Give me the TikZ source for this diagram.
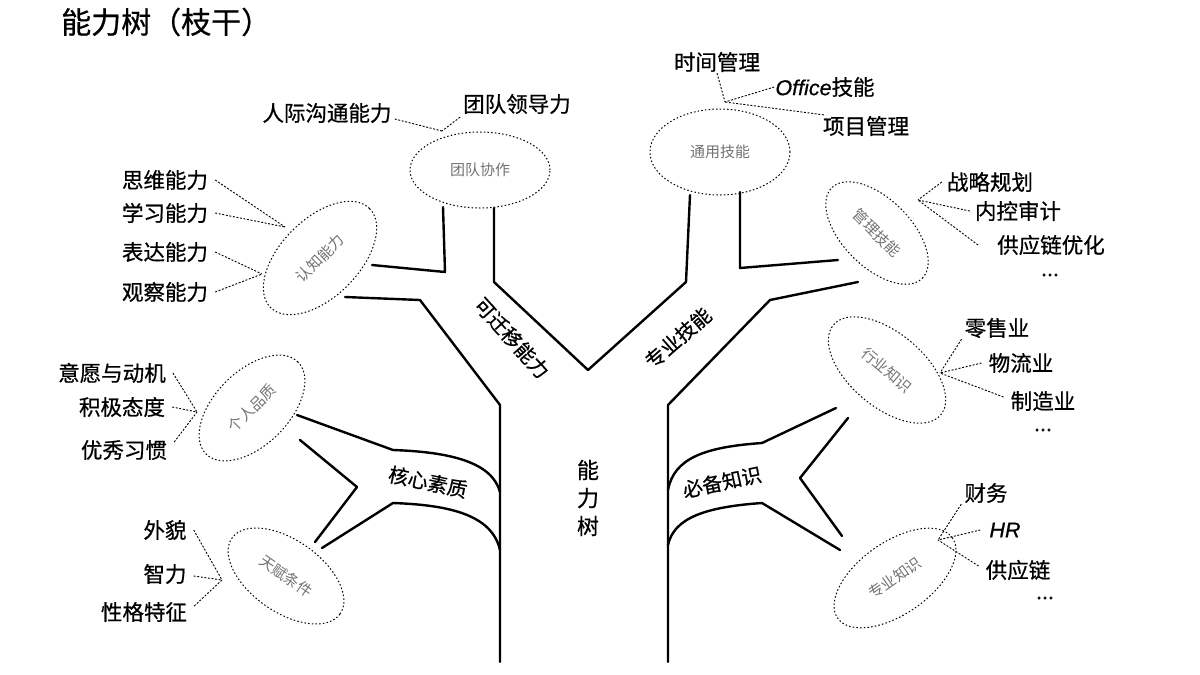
\documentclass[tikz,border=0pt]{standalone}
\usepackage{fontspec}
\setmainfont{Noto Sans CJK SC}
\newfontfamily\labfont{Noto Sans CJK SC}[FakeBold=0.6]
\newfontfamily\itfont{Liberation Sans}[FakeBold=0.6]
\usetikzlibrary{shapes.geometric}
\begin{document}
\begin{tikzpicture}[x=1pt,y=-1pt,
  branch/.style={line width=2.4pt, line join=round, line cap=round},
  lead/.style={dash pattern=on 2pt off 1.6pt, line width=0.9pt},
  oval/.style={ellipse, draw, dash pattern=on 1.5pt off 2.2pt, line width=1pt, inner sep=0pt, font=\fontsize{15}{15}\selectfont, text=black!55},
  lab/.style={font=\labfont\fontsize{21.5}{21.5}\selectfont, inner sep=1pt},
  blab/.style={font=\labfont\fontsize{20}{20}\selectfont, inner sep=0pt}]
\useasboundingbox (0,0) rectangle (1200,675);
\fill[white] (0,0) rectangle (1200,675);

\node[anchor=west, font=\labfont\fontsize{30}{30}\selectfont, inner sep=0pt] (title) at (61,22) {能力树（枝干）};

% ellipses
\node[oval, minimum width=140pt, minimum height=76pt] (e1) at (480,170) {团队协作};
\node[oval, minimum width=140pt, minimum height=86pt] (e2) at (720,152) {通用技能};
\node[oval, minimum width=140pt, minimum height=78pt, rotate=45] (e3) at (320,258) {认知能力};
\node[oval, minimum width=128pt, minimum height=68pt, rotate=-45] (e4) at (877,233) {管理技能};
\node[oval, minimum width=130pt, minimum height=74pt, rotate=45] (e5) at (252,408) {个人品质};
\node[oval, minimum width=140pt, minimum height=74pt, rotate=-40] (e6) at (887,370) {行业知识};
\node[oval, minimum width=132pt, minimum height=72pt, rotate=-35] (e7) at (286,576) {天赋条件};
\node[oval, minimum width=140pt, minimum height=72pt, rotate=35] (e8) at (895,578) {专业知识};

% tree outline
\draw[branch] (372,265) -- (445,272) -- (443,207);
\draw[branch] (345,297) -- (420,300) -- (500,405) -- (500,662);
\draw[branch] (494,208) -- (494,282) -- (588,370) -- (686,282) -- (690,195);
\draw[branch] (740,192) -- (740,268) -- (838,260);
\draw[branch] (858,282) -- (770,300) -- (668,405) -- (668,662);
% lower left branch
\draw[branch] (297,415) -- (393,450) .. controls (450,452) and (492,462) .. (500,492);
\draw[branch] (300,440) -- (357,487) -- (315,542);
\draw[branch] (322,548) -- (393,503) .. controls (450,505) and (492,515) .. (500,550);
% lower right branch
\draw[branch] (836,408) -- (762,443) .. controls (705,447) and (674,458) .. (668,490);
\draw[branch] (848,418) -- (800,478) -- (842,536);
\draw[branch] (840,550) -- (762,503) .. controls (705,507) and (674,518) .. (668,545);

% branch labels
\node[blab, rotate=-48] (b1) at (512,338) {可迁移能力};
\node[blab, rotate=41] (b2) at (678,338) {专业技能};
\node[blab, rotate=-12] (b3) at (428,482) {核心素质};
\node[blab, rotate=12] (b4) at (722,482) {必备知识};
\node[font=\labfont\fontsize{22}{28}\selectfont, align=center, inner sep=0pt] (trunk) at (588,498) {能\\力\\树};

% top-left labels
\coordinate (c1) at (442,131);
\node[lab] (l11) at (327,113) {人际沟通能力};
\node[lab] (l12) at (517,104) {团队领导力};
\draw[lead] (l11.east) ++(2,6) -- (c1);
\draw[lead] (l12.south west) ++(-2,2) -- (c1);

% top-right labels
\coordinate (c2) at (725,102);
\node[lab] (l21) at (717,62) {时间管理};
\node[lab] (l22) at (825,87) {{\itfont\itshape Office}技能};
\node[lab] (l23) at (866,126) {项目管理};
\draw[lead] (l21.south) -- (c2);
\draw[lead] (l22.west) -- (c2);
\draw[lead] (l23.north west) ++(2,0) -- (c2);

% right-upper labels
\coordinate (c3) at (918,200);
\node[lab] (l31) at (990,182) {战略规划};
\node[lab] (l32) at (1018,211) {内控审计};
\node[lab] (l33) at (1051,245) {供应链优化};
\node[lab] (l34) at (1050,275) {...};
\draw[lead] (l31.west) ++(-4,0) -- (c3);
\draw[lead] (l32.west) ++(-4,0) -- (c3);
\draw[lead] (l33.west) ++(-18,0) -- (c3);

% left-upper labels
\coordinate (c4) at (285,227);
\coordinate (c4b) at (262,274);
\node[lab] (l41) at (165,180) {思维能力};
\node[lab] (l42) at (165,213) {学习能力};
\node[lab] (l43) at (165,252) {表达能力};
\node[lab] (l44) at (165,292) {观察能力};
\draw[lead] (l41.east) ++(6,0) -- (c4);
\draw[lead] (l42.east) ++(6,0) -- (c4);
\draw[lead] (l43.east) ++(6,0) -- (c4b);
\draw[lead] (l44.east) ++(6,0) -- (c4b);

% left-middle labels
\coordinate (c5) at (197,412);
\node[lab] (l51) at (112,373) {意愿与动机};
\node[lab] (l52) at (122,407) {积极态度};
\node[lab] (l53) at (124,450) {优秀习惯};
\draw[lead] (l51.east) ++(6,0) -- (c5);
\draw[lead] (l52.east) ++(6,0) -- (c5);
\draw[lead] (l53.east) ++(6,-8) -- (c5);

% left-bottom labels
\coordinate (c6) at (222,580);
\node[lab] (l61) at (165,530) {外貌};
\node[lab] (l62) at (165,574) {智力};
\node[lab] (l63) at (144,612) {性格特征};
\draw[lead] (l61.east) ++(6,0) -- (c6);
\draw[lead] (l62.east) ++(6,2) -- (c6);
\draw[lead] (l63.east) ++(6,-6) -- (c6);

% right-middle labels
\coordinate (c7) at (940,373);
\node[lab] (l71) at (997,328) {零售业};
\node[lab] (l72) at (1021,363) {物流业};
\node[lab] (l73) at (1043,401) {制造业};
\node[lab] (l74) at (1043,430) {...};
\draw[lead] (l71.south west) ++(-2,0) -- (c7);
\draw[lead] (l72.west) ++(-6,0) -- (c7);
\draw[lead] (l73.west) ++(-6,-4) -- (c7);

% right-bottom labels
\coordinate (c8) at (938,540);
\node[lab] (l81) at (986,493) {财务};
\node[lab] (l82) at (1005,530) {{\itfont\itshape HR}};
\node[lab] (l83) at (1018,570) {供应链};
\node[lab] (l84) at (1045,598) {...};
\draw[lead] (l81.south west) ++(-2,0) -- (c8);
\draw[lead] (l82.west) ++(-8,0) -- (c8);
\draw[lead] (l83.west) ++(-6,-4) -- (c8);
\end{tikzpicture}
\end{document}
